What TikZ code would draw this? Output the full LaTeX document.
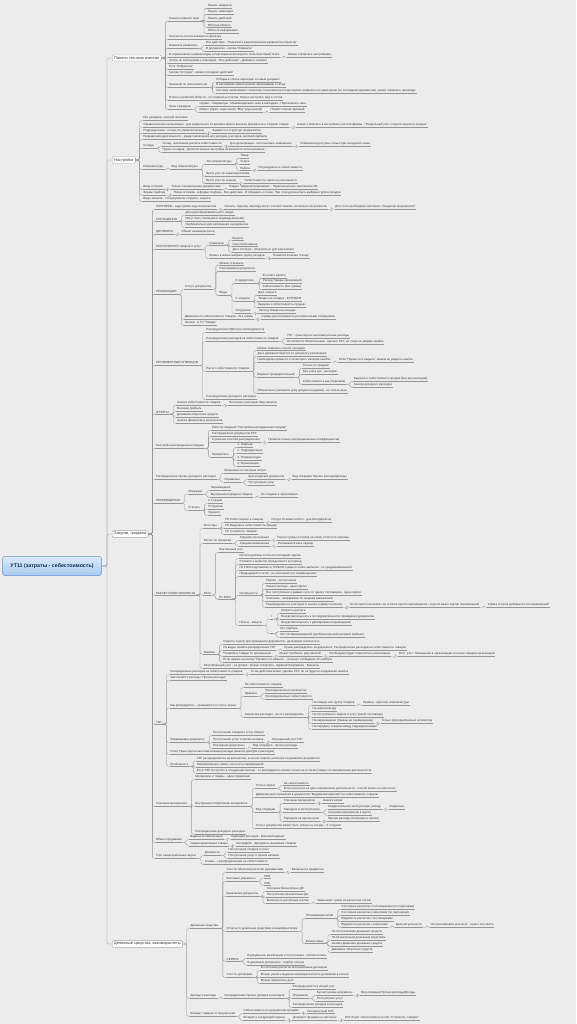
\documentclass[tikz,border=0pt]{standalone}
\usepackage{fontspec}
\setmainfont{Liberation Sans}
\newcommand{\mapfont}{\fontsize{2.95}{3.5}\selectfont}
\newcommand{\mapbigfont}{\fontsize{3.9}{4.6}\selectfont}
\newcommand{\maprootfont}{\fontsize{5.3}{6.2}\selectfont\bfseries}
\definecolor{paper}{RGB}{236,236,236}
\definecolor{textc}{RGB}{55,55,55}
\definecolor{linec}{RGB}{150,150,150}
\definecolor{boxc}{RGB}{165,165,165}
\definecolor{roottop}{RGB}{218,234,250}
\definecolor{rootbot}{RGB}{168,201,240}
\definecolor{rootline}{RGB}{96,146,212}
\definecolor{roottext}{RGB}{25,45,85}

\begin{document}
\begin{tikzpicture}[x=1pt, y=-1pt,
  every node/.style={font=\mapfont, text=textc},
  topic/.style={anchor=west, xshift=7pt, inner xsep=.6pt, inner ysep=.9pt,
    append after command={(\tikzlastnode.south west) edge[draw=linec, line width=.3pt] (\tikzlastnode.south east)}},
  main/.style={anchor=west, draw=boxc, fill=white, rounded corners=1.2pt, inner xsep=2pt, inner ysep=1.6pt, font=\mapbigfont},
  root/.style={draw=rootline, line width=.5pt, top color=roottop, bottom color=rootbot, rounded corners=2.5pt,
    minimum width=99pt, minimum height=19pt, text=roottext, font=\maprootfont},
  link/.style={draw=linec, line width=.35pt, rounded corners=1.5pt,
    to path={(\tikztostart.south east) -| ([xshift=-3pt]\tikztotarget.south west) -- (\tikztotarget.south west)}},
  mainlink/.style={link, to path={(\tikztostart.east) -| ([xshift=-3pt]\tikztotarget.south west) -- (\tikztotarget.south west)}},
  trunk/.style={link, to path={(\tikztostart.east) -| ([xshift=-5pt]\tikztotarget.west) -- (\tikztotarget.west)}}]

  \useasboundingbox (0,0) rectangle (576,1024);
  \fill[paper] (0,0) rectangle (576,1024);

  % root and main branches
  \node[root] (ut) at (52,566) {УТ11 (затраты - себестоимость)};
  \node[main] (ui) at (112,58) {Панели технологические};
  \node[main] (setup) at (112,160) {Настройки};
  \node[main] (trade) at (112,534) {Закупки, продажи};
  \node[main] (money) at (112,944) {Денежные средства, взаиморасчеты};

  % Панели технологические
  \node[topic] (uiwin) at (ui.east |- 0,19) {Панели главного окна};
  \node[topic] (uiwin1) at (uiwin.east |- 0,6) {Панель разделов};
  \node[topic] (uiwin2) at (uiwin.east |- 0,12) {Панель навигации};
  \node[topic] (uiwin3) at (uiwin.east |- 0,19) {Панель действий};
  \node[topic] (uiwin4) at (uiwin.east |- 0,25) {Рабочая область};
  \node[topic] (uiwin5) at (uiwin.east |- 0,31) {Области информации};
  \node[topic] (uifilt) at (ui.east |- 0,37) {Контексты использования по фильтру};
  \node[topic] (uiedit) at (ui.east |- 0,46) {Изменить реквизиты};
  \node[topic] (uiedit1) at (uiedit.east |- 0,43) {Все действия - "Разрешить редактирование реквизитов объектов"};
  \node[topic] (uiedit2) at (uiedit.east |- 0,49) {В документах - кнопка "Изменить"};
  \node[topic] (uisrch) at (ui.east |- 0,55) {В справочниках номенклатуры и партнеров используется полнотекстовый поиск};
  \node[topic] (uisrch1) at (uisrch.east |- 0,55) {Можно отключить настройками};
  \node[topic] (uihelp) at (ui.east |- 0,61) {Чтобы не использовать помощник - "Все действия" - Добавить элемент};
  \node[topic] (uifav) at (ui.east |- 0,67) {Есть "Избранное"};
  \node[topic] (uihist) at (ui.east |- 0,73) {Кнопка "История" - кроме последних действий};
  \node[topic] (uidef) at (ui.east |- 0,85) {Значения по умолчанию нет};
  \node[topic] (uidef1) at (uidef.east |- 0,79.5) {Отборы в списке переходят в новый документ};
  \node[topic] (uidef2) at (uidef.east |- 0,85) {В настройках можно указать организацию и склад};
  \node[topic] (uidef3) at (uidef.east |- 0,91) {Система накапливает статистику пользователя и подставляет реквизиты по умолчанию (по последним документам), нужно отключить при вводе};
  \node[topic] (uirep) at (ui.east |- 0,98) {Отчеты в рабочей области - это варианты отчетов. Можно настроить вид и состав};
  \node[topic] (uiwnd) at (ui.east |- 0,107) {Окна и разделы};
  \node[topic] (uiwnd1) at (uiwnd.east |- 0,104) {Сервис - Параметры - Минимизировать окно в закладках - Переключать окна};
  \node[topic] (uiwnd2) at (uiwnd.east |- 0,110) {Можно убрать через меню "Вид" ряд панелей};
  \node[topic] (uiwnd3) at (uiwnd2.east |- 0,110) {Появится меню функций};

  % Настройки
  \node[topic] (st1) at (setup.east |- 0,118) {Нет резервов, учетной политики};
  \node[topic] (st2) at (setup.east |- 0,125) {Управленческая организация - для раздельного по времени факта выпуска документов и отгрузки товара};
  \node[topic] (st2a) at (st2.east |- 0,125) {можно отключить в настройках учетной фирмы : "Раздельный учет отгрузки закупок и продаж"};
  \node[topic] (st3) at (setup.east |- 0,131) {Подразделения - только по управленческим};
  \node[topic] (st3a) at (st3.east |- 0,131) {Задаются в структуре предприятия};
  \node[topic] (st4) at (setup.east |- 0,137) {Направления деятельности - раздел включения для доходов, расходов, валовой прибыли};
  \node[topic] (store) at (setup.east |- 0,146) {Склады};
  \node[topic] (store1) at (store.east |- 0,144) {Склад - включение расчета себестоимости};
  \node[topic] (store1a) at (store1.east |- 0,144) {Для детализации - использовать помещения};
  \node[topic] (store1b) at (store1a.east |- 0,144) {Помещения доступны только при складской схеме};
  \node[topic] (store2) at (store.east |- 0,150) {Группы складов - дополнительная настройка возможности использования};
  \node[topic] (nom) at (setup.east |- 0,167) {Номенклатура};
  \node[topic] (nomkind) at (nom.east |- 0,167) {Вид номенклатуры};
  \node[topic] (nomtype) at (nomkind.east |- 0,162) {Тип номенклатуры};
  \node[topic] (nomtype1) at (nomtype.east |- 0,156) {Товар};
  \node[topic] (nomtype2) at (nomtype.east |- 0,162) {Услуга};
  \node[topic] (nomtype3) at (nomtype.east |- 0,168) {Работа};
  \node[topic] (nomtype3a) at (nomtype3.east |- 0,168) {Регулируемость себестоимости};
  \node[topic] (nomchar) at (nomkind.east |- 0,174) {Вести учет по характеристикам};
  \node[topic] (nomser) at (nomkind.east |- 0,181) {Вести учет по сериям};
  \node[topic] (nomser1) at (nomser.east |- 0,181) {Себестоимость серии не учитывается};
  \node[topic] (st7) at (setup.east |- 0,187) {Ввод остатков};
  \node[topic] (st7a) at (st7.east |- 0,187) {Только специальными документами};
  \node[topic] (st7b) at (st7a.east |- 0,187) {Раздел "Администрирование" - Первоначальное заполнение ИБ};
  \node[topic] (st8) at (setup.east |- 0,193) {Формы подбора};
  \node[topic] (st8a) at (st8.east |- 0,193) {Показ остатков - в форме подбора - Все действия - Отображать остатки. При этом должна быть выбрана группа складов};
  \node[topic] (st9) at (setup.east |- 0,199) {Виды запасов - это документы отгрузки - закупки};

  % Закупки, продажи
  \node[topic] (partn) at (trade.east |- 0,207) {ПАРТНЕРЫ - надстройка над контрагентом};
  \node[topic] (partn1) at (partn.east |- 0,207) {Оплата - Одному партнеру могут соответствовать несколько контрагентов};
  \node[topic] (partn2) at (partn1.east |- 0,207) {Для этого необходимо заполнить "Сведения предприятия"};
  \node[topic] (agree) at (trade.east |- 0,219) {СОГЛАШЕНИЯ};
  \node[topic] (agree1) at (agree.east |- 0,213) {Для ценообразования цен и скидок};
  \node[topic] (agree2) at (agree.east |- 0,219) {Могут быть типовыми и индивидуальными};
  \node[topic] (agree3) at (agree.east |- 0,225) {Необязательно для заполнения в документах};
  \node[topic] (contr) at (trade.east |- 0,232) {ДОГОВОРЫ};
  \node[topic] (contr1) at (contr.east |- 0,232) {Объект взаиморасчетов};
  \node[topic] (recv) at (trade.east |- 0,247) {ПОСТУПЛЕНИЯ товаров и услуг};
  \node[topic] (recvreq) at (recv.east |- 0,243) {Реквизиты};
  \node[topic] (recvreq1) at (recvreq.east |- 0,238) {Валюта};
  \node[topic] (recvreq2) at (recvreq.east |- 0,244) {Налогообложение};
  \node[topic] (recvreq3) at (recvreq.east |- 0,250) {Дата платежа - обязательно для заполнения};
  \node[topic] (recvstore) at (recv.east |- 0,256) {Можно в шапке выбрать группу складов};
  \node[topic] (recvstore1) at (recvstore.east |- 0,256) {Появится колонка "Склад"};
  \node[topic] (sale) at (trade.east |- 0,292) {РЕАЛИЗАЦИИ};
  \node[topic] (salest) at (sale.east |- 0,287) {Статус документов};
  \node[topic] (salest1) at (salest.east |- 0,263) {Можно отклонить};
  \node[topic] (salest2) at (salest.east |- 0,269) {Распоряжение документа};
  \node[topic] (salekind) at (salest.east |- 0,293) {Виды};
  \node[topic] (prepay) at (salekind.east |- 0,281) {К предоплате};
  \node[topic] (prepay1) at (prepay.east |- 0,276) {В оплате валюту};
  \node[topic] (prepay2) at (prepay.east |- 0,281) {Расход Товары организаций};
  \node[topic] (prepay3) at (prepay.east |- 0,287) {Себестоимость (без суммы)};
  \node[topic] (toship) at (salekind.east |- 0,299) {К отгрузке};
  \node[topic] (toship1) at (toship.east |- 0,293) {Долг клиента};
  \node[topic] (toship2) at (toship.east |- 0,299) {Товары на складах - В РЕЗЕРВ};
  \node[topic] (toship3) at (toship.east |- 0,305) {Выручка и себестоимость продаж};
  \node[topic] (shipped) at (salekind.east |- 0,311) {Отгружено};
  \node[topic] (shipped1) at (shipped.east |- 0,311) {Расход Товары на складах};
  \node[topic] (salecost) at (sale.east |- 0,317) {Движения по себестоимости товаров - без суммы};
  \node[topic] (salecost1) at (salecost.east |- 0,317) {Суммы рассчитываются регламентными операциями};
  \node[topic] (saletax) at (sale.east |- 0,323) {Налоги - в ТЧ "Товары"};

  \node[topic] (regop) at (trade.east |- 0,363) {РЕГЛАМЕНТНЫЕ ОПЕРАЦИИ};
  \node[topic] (vat) at (regop.east |- 0,330) {Распределение НДС (при необходимости)};
  \node[topic] (alloc) at (regop.east |- 0,339) {Распределение расходов на себестоимость товаров};
  \node[topic] (alloc1) at (alloc.east |- 0,336) {ТЗР - транспортно заготовительные расходы};
  \node[topic] (alloc2) at (alloc.east |- 0,342) {Не является обязательным - сделает РСТ, но тогда не увидим ошибки};
  \node[topic] (calc) at (regop.east |- 0,369) {Расчет себестоимости товаров};
  \node[topic] (calc1) at (calc.east |- 0,348) {Можно поменять способ списания};
  \node[topic] (calc2) at (calc.east |- 0,354) {Дата движения берется по документу реализации};
  \node[topic] (calc3) at (calc.east |- 0,360) {Необходимо провести и посмотреть наличие ошибок};
  \node[topic] (calc3a) at (calc3.east |- 0,360) {Если "Провести и закрыть" можем не увидеть ошибок};
  \node[topic] (draft) at (calc.east |- 0,375) {Вариант предварительный};
  \node[topic] (draft1) at (draft.east |- 0,366) {Только по средней};
  \node[topic] (draft2) at (draft.east |- 0,372) {Без учета доп. расходов};
  \node[topic] (draft3) at (draft.east |- 0,382) {Себестоимость как (Черновик)};
  \node[topic] (draft3a) at (draft3.east |- 0,379) {Выручка и себестоимость продаж (Без доп расходов)};
  \node[topic] (draft3b) at (draft3.east |- 0,385) {Анализ доходов и расходов};
  \node[topic] (calc5) at (calc.east |- 0,391) {Обязательно учитывать дату документа (время) - не только день};
  \node[topic] (regop4) at (regop.east |- 0,397) {Распределение доходов и расходов};

  \node[topic] (rep) at (trade.east |- 0,412) {ОТЧЕТЫ};
  \node[topic] (rep1) at (rep.east |- 0,403) {Анализ себестоимости товаров};
  \node[topic] (rep1a) at (rep1.east |- 0,403) {Постоянно учитывает Вид запасов};
  \node[topic] (rep2) at (rep.east |- 0,409) {Валовая прибыль};
  \node[topic] (rep3) at (rep.east |- 0,415) {Динамика оборотных средств};
  \node[topic] (rep4) at (rep.east |- 0,421) {Анализ финансовых результатов};

  \node[topic] (split) at (trade.east |- 0,446) {Настройка распределения продаж};
  \node[topic] (split1) at (split.east |- 0,428) {Регистр сведений "Настройка распределения продаж"};
  \node[topic] (split2) at (split.east |- 0,434) {Распределение документов РСТ};
  \node[topic] (split3) at (split.east |- 0,440) {Стратегия способа распределения};
  \node[topic] (split3a) at (split3.east |- 0,440) {Правила только пропорционально коэффициентам};
  \node[topic] (prio) at (split.east |- 0,455) {Приоритеты};
  \node[topic] (prio1) at (prio.east |- 0,445) {1. Партнер};
  \node[topic] (prio2) at (prio.east |- 0,451) {2. Подразделение};
  \node[topic] (prio3) at (prio.east |- 0,458) {3. Номенклатура};
  \node[topic] (prio4) at (prio.east |- 0,464) {4. Организация};

  \node[topic] (other) at (trade.east |- 0,477) {Распределение прочих доходов и расходов};
  \node[topic] (other1) at (other.east |- 0,471) {Возможности списания затрат};
  \node[topic] (otherref) at (other.east |- 0,480) {Отражение};
  \node[topic] (otherref1) at (otherref.east |- 0,477) {Бухгалтерские документы};
  \node[topic] (otherref1a) at (otherref1.east |- 0,477) {Вид операции Прочие расходы/Доходы};
  \node[topic] (otherref2) at (otherref.east |- 0,483) {Поступление услуг};

  \node[topic] (move) at (trade.east |- 0,501) {ПЕРЕМЕЩЕНИЯ};
  \node[topic] (moveop) at (move.east |- 0,492) {Операции};
  \node[topic] (moveop1) at (moveop.east |- 0,488) {Перемещения};
  \node[topic] (moveop2) at (moveop.east |- 0,495) {Внутренняя передача товаров};
  \node[topic] (moveop2a) at (moveop2.east |- 0,495) {Не созданы в организации};
  \node[topic] (movest) at (move.east |- 0,508) {Статусы};
  \node[topic] (movest1) at (movest.east |- 0,501) {К отгрузке};
  \node[topic] (movest2) at (movest.east |- 0,507) {Отгружено};
  \node[topic] (movest3) at (movest.east |- 0,513) {Принято};

  \node[topic] (cost) at (trade.east |- 0,593) {РАСЧЕТ СЕБЕСТОИМОСТИ};
  \node[topic] (reg) at (cost.east |- 0,526) {Регистры};
  \node[topic] (reg1) at (reg.east |- 0,520) {РН Себестоимость товаров};
  \node[topic] (reg1a) at (reg1.east |- 0,520) {Ресурс Стоимость/Регл - для Интерфейсов};
  \node[topic] (reg2) at (reg.east |- 0,526) {РН Выручка и себестоимость продаж};
  \node[topic] (reg3) at (reg.east |- 0,532) {РС Стоимость товаров};
  \node[topic] (avg) at (cost.east |- 0,541) {Расчет по среднему};
  \node[topic] (avg1) at (avg.east |- 0,538) {Средняя скользящая};
  \node[topic] (avg1a) at (avg1.east |- 0,538) {Расчет суммы остатков на конец отчетного периода};
  \node[topic] (avg2) at (avg.east |- 0,544) {Средняя взвешенная};
  \node[topic] (avg2a) at (avg2.east |- 0,544) {Учитывается весь период};
  \node[topic] (fifo) at (cost.east |- 0,593) {FIFO};
  \node[topic] (fifo1) at (fifo.east |- 0,550) {Партионный учет};
  \node[topic] (rauz) at (fifo.east |- 0,597) {По РАУЗ};
  \node[topic] (rauz1) at (rauz.east |- 0,556) {Остатки должны остаться последние партии};
  \node[topic] (rauz2) at (rauz.east |- 0,562) {Стоимость выбытия определяется за период};
  \node[topic] (rauz3) at (rauz.east |- 0,568) {По FIFO подставляется ТОЛЬКО сумма остатка, выбытие - по средневзвешенной};
  \node[topic] (rauz4) at (rauz.east |- 0,574) {Предыдущий остаток - не учитывается в перемещениях};
  \node[topic] (feat) at (rauz.east |- 0,593) {Особенности};
  \node[topic] (feat1) at (feat.east |- 0,581) {Партии - поступление};
  \node[topic] (feat2) at (feat.east |- 0,587) {Начало месяца - одна партия};
  \node[topic] (feat3) at (feat.east |- 0,593) {Все поступления в рамках суток от одного поставщика - одна партия};
  \node[topic] (feat4) at (feat.east |- 0,599) {Списание - непрерывно по средней взвешенной};
  \node[topic] (feat5) at (feat.east |- 0,605) {Перемещения не участвуют в оценке (суммы остатков)};
  \node[topic] (feat5a) at (feat5.east |- 0,605) {Если партия не влияет на остаток партии перемещения - подсчитывает партии перемещений};
  \node[topic] (feat5b) at (feat5a.east |- 0,605) {Сумма остатка добирается из перемещений};
  \node[topic] (pm) at (rauz.east |- 0,623) {Плюсы - минусы};
  \node[topic] (plus) at (pm.east |- 0,617) {+};
  \node[topic] (plus1) at (plus.east |- 0,611) {Скорость расчета};
  \node[topic] (plus2) at (plus.east |- 0,617) {Нечувствительность к последовательности проведения документов};
  \node[topic] (plus3) at (plus.east |- 0,623) {Нечувствительность к дате/времени перемещений};
  \node[topic] (minus) at (pm.east |- 0,632) {-};
  \node[topic] (minus1) at (minus.east |- 0,629) {Нет подбора};
  \node[topic] (minus2) at (minus.east |- 0,635) {Нет оптимизированной (приблизительной) валовой прибыли};
  \node[topic] (err) at (cost.east |- 0,652) {Ошибки};
  \node[topic] (err1) at (err.east |- 0,642) {Сверить оценку при проведении документов - дата может измениться};
  \node[topic] (err2) at (err.east |- 0,648) {Не видно ошибок распределения ТЗР};
  \node[topic] (err2a) at (err2.east |- 0,648) {Лучше распределять из документа: Распределение расходов на себестоимость товаров};
  \node[topic] (err3) at (err.east |- 0,654) {Появились товары по организации};
  \node[topic] (err3a) at (err3.east |- 0,654) {Может пробегать ряд записей};
  \node[topic] (err3b) at (err3a.east |- 0,654) {Необходимо будет пересчитать реализацию};
  \node[topic] (err3c) at (err3b.east |- 0,654) {Регл. учет: Помещение в организацию остатков товаров организаций};
  \node[topic] (err4) at (err.east |- 0,660) {Если нажать на кнопку "Провести и закрыть" - исчезнут сообщения об ошибках};
  \node[topic] (sep) at (cost.east |- 0,666) {Обособленный учет - на уровне - можно отключить. Администрирование - Финансы};

  \node[topic] (tzr) at (trade.east |- 0,722) {ТЗР};
  \node[topic] (tzr1) at (tzr.east |- 0,672) {Распределение расходов на себестоимость товаров};
  \node[topic] (tzr1a) at (tzr1.east |- 0,672) {Те же действия может сделать РСТ, но не будет исследования ошибок};
  \node[topic] (tzr2) at (tzr.east |- 0,678) {Заполняются расходы "Прочие расходы"};
  \node[topic] (how) at (tzr.east |- 0,706) {Как распределять - указывается в статье затрат};
  \node[topic] (how1) at (how.east |- 0,685) {На себестоимость товаров};
  \node[topic] (rule) at (how.east |- 0,694) {Правила};
  \node[topic] (rule1) at (rule.east |- 0,691) {Пропорционально количеству};
  \node[topic] (rule2) at (rule.east |- 0,697) {Пропорционально себестоимости};
  \node[topic] (anl) at (how.east |- 0,715) {Аналитика расходов - на что распределять};
  \node[topic] (anl1) at (anl.east |- 0,703) {На товары или группу товаров};
  \node[topic] (anl1a) at (anl1.east |- 0,703) {Пример - карточки номенклатуры};
  \node[topic] (anl2) at (anl.east |- 0,709) {На номенклатуру};
  \node[topic] (anl3) at (anl.east |- 0,715) {На поступление товаров и услуг (какой поставщик)};
  \node[topic] (anl4) at (anl.east |- 0,721) {На перемещение (Заказы на перемещение)};
  \node[topic] (anl4a) at (anl4.east |- 0,721) {Только пропорционально количеству};
  \node[topic] (anl5) at (anl.east |- 0,727) {На передачу товаров между подразделениями};
  \node[topic] (doc) at (tzr.east |- 0,740) {Отражающие документы};
  \node[topic] (doc1) at (doc.east |- 0,733) {Поступление товаров и услуг (Закуп)};
  \node[topic] (doc2) at (doc.east |- 0,740) {Поступление услуг и прочих активов};
  \node[topic] (doc2a) at (doc2.east |- 0,740) {Упрощенный учет ТЗР};
  \node[topic] (doc3) at (doc.east |- 0,746) {Платежные документы};
  \node[topic] (doc3a) at (doc3.east |- 0,746) {Вид операции - прочие расходы};
  \node[topic] (tzrrep) at (tzr.east |- 0,752) {Отчет Транспортно-заготовительные расходы (Анализ доходов и расходов)};
  \node[topic] (tzrf) at (tzr.east |- 0,764) {Особенность};
  \node[topic] (tzrf1) at (tzrf.east |- 0,758.5) {ТЗР распределяются на количество, если нет партий, несмотря на движения документов};
  \node[topic] (tzrf2) at (tzrf.east |- 0,764.5) {Непривязанные суммы, если нету перемещений};
  \node[topic] (tzrf3) at (tzrf.east |- 0,770.5) {Если ТЗР поступило в следующем месяце - то распределить можно только на остатки (товары по направлению деятельности)};

  \node[topic] (mat) at (trade.east |- 0,804) {Списание материалов};
  \node[topic] (mat1) at (mat.east |- 0,777) {Материалы и товары - один справочник};
  \node[topic] (use) at (mat.east |- 0,804) {Внутреннее потребление материалов};
  \node[topic] (art) at (use.east |- 0,786) {Статья затрат};
  \node[topic] (art1) at (art.east |- 0,783) {На себестоимость};
  \node[topic] (art2) at (art.east |- 0,789) {Если относится на одно направление деятельности - способ можно не заполнять};
  \node[topic] (use2) at (use.east |- 0,795) {Движения для отражения в документах "Выдача материалов" на себестоимость товаров};
  \node[topic] (opk) at (use.east |- 0,810) {Вид операции};
  \node[topic] (opk1) at (opk.east |- 0,801) {Списание материалов};
  \node[topic] (opk1a) at (opk1.east |- 0,801) {Анализ затрат};
  \node[topic] (opk2) at (opk.east |- 0,810) {Передача в эксплуатацию};
  \node[topic] (opk2a) at (opk2.east |- 0,807) {Разделительная эксплуатация (склад)};
  \node[topic] (opk2b) at (opk2a.east |- 0,807) {Справочно};
  \node[topic] (opk2c) at (opk2.east |- 0,813) {Списание материалов в группу};
  \node[topic] (opk3) at (opk.east |- 0,819) {Передача на прочие цели};
  \node[topic] (opk3a) at (opk3.east |- 0,819) {Прочие расходы (Списание в налоги)};
  \node[topic] (use4) at (use.east |- 0,826) {Статус документов может быть только на складе - "к отгрузке"};
  \node[topic] (mat3) at (mat.east |- 0,832) {Распределение доходов и расходов};

  \node[topic] (xch) at (trade.east |- 0,840) {Обмен продажами};
  \node[topic] (xch1) at (xch.east |- 0,837) {Варианты компенсации};
  \node[topic] (xch1a) at (xch1.east |- 0,837) {Сценарий расходов - Валовой вариант};
  \node[topic] (xch2) at (xch.east |- 0,843.5) {Сверхнормативные товары};
  \node[topic] (xch2a) at (xch2.east |- 0,843.5) {Интерфейс - Документы денежных товаров};
  \node[topic] (nonmat) at (trade.east |- 0,856) {Учет нематериальных затрат};
  \node[topic] (nmdoc) at (nonmat.east |- 0,853) {Документы};
  \node[topic] (nmdoc1) at (nmdoc.east |- 0,849.5) {Поступление товаров и услуг};
  \node[topic] (nmdoc2) at (nmdoc.east |- 0,856) {Поступление услуг и прочих активов};
  \node[topic] (nm2) at (nonmat.east |- 0,862) {Статьи - с распределением на себестоимость};

  % Денежные средства, взаиморасчеты
  \node[topic] (cash) at (money.east |- 0,926) {Денежные средства};
  \node[topic] (cash1) at (cash.east |- 0,870) {Учет по объектам расчетов (документам)};
  \node[topic] (cash1a) at (cash1.east |- 0,870) {Включается предметно};
  \node[topic] (till) at (cash.east |- 0,879) {Кассовые документы};
  \node[topic] (till1) at (till.east |- 0,876) {ПКО};
  \node[topic] (till2) at (till.east |- 0,883) {РКО};
  \node[topic] (bank) at (cash.east |- 0,894) {Банковские документы};
  \node[topic] (bank1) at (bank.east |- 0,889) {Списание безналичных ДС};
  \node[topic] (bank2) at (bank.east |- 0,895) {Поступление безналичных ДС};
  \node[topic] (bank3) at (bank.east |- 0,901) {Выписка по расчетным счетам};
  \node[topic] (bank3a) at (bank3.east |- 0,901) {Уменьшает сумму на расчетных счетах};
  \node[topic] (crep) at (cash.east |- 0,929) {Отчеты по денежным средствам и взаиморасчетам};
  \node[topic] (mut) at (crep.east |- 0,916) {По взаиморасчетам};
  \node[topic] (mut1) at (mut.east |- 0,907) {Состояние расчетов с поставщиками (по партнерам)};
  \node[topic] (mut2) at (mut.east |- 0,913) {Состояние расчетов с клиентами (по партнерам)};
  \node[topic] (mut3) at (mut.east |- 0,919) {Ведомость расчетов с поставщиками};
  \node[topic] (mut4) at (mut.east |- 0,925) {Ведомость расчетов с клиентами};
  \node[topic] (mut4a) at (mut4.east |- 0,925) {Дата актуальности};
  \node[topic] (mut4b) at (mut4a.east |- 0,925) {"Актуализировать расчеты" - нужно поставить};
  \node[topic] (fin) at (crep.east |- 0,941) {Финансовые};
  \node[topic] (fin1) at (fin.east |- 0,932) {По поступлениям денежных средств};
  \node[topic] (fin2) at (fin.east |- 0,938) {По безналичным денежным средствам};
  \node[topic] (fin3) at (fin.east |- 0,944) {Анализ движения денежных средств};
  \node[topic] (fin4) at (fin.east |- 0,950) {Динамика оборотных средств};
  \node[topic] (svc) at (cash.east |- 0,959) {СЕРВИС};
  \node[topic] (svc1) at (svc.east |- 0,956) {В документах реализации и поступления - кнопка оплаты};
  \node[topic] (svc2) at (svc.east |- 0,962.5) {В денежных документах - подбор оплаты};
  \node[topic] (dog) at (cash.east |- 0,975) {Учет по договорам};
  \node[topic] (dog1) at (dog.east |- 0,968) {В состоянии расчетов использование договоров};
  \node[topic] (dog2) at (dog.east |- 0,974.5) {Можно указать ведение взаиморасчетов по договорам в оплате};
  \node[topic] (dog3) at (dog.east |- 0,981) {Можно переписать долг};
  \node[topic] (inc) at (money.east |- 0,996) {Доходы и расходы};
  \node[topic] (inc1) at (inc.east |- 0,996) {Распределение прочих доходов и расходов};
  \node[topic] (inc1a) at (inc1.east |- 0,987) {Распределяются в общий учет};
  \node[topic] (incref) at (inc1.east |- 0,996) {Отражение};
  \node[topic] (incref1) at (incref.east |- 0,993) {Бухгалтерские документы};
  \node[topic] (incref1a) at (incref1.east |- 0,993) {Вид операции Прочие расходы/Доходы};
  \node[topic] (incref2) at (incref.east |- 0,999) {Поступление услуг};
  \node[topic] (inc1c) at (inc1.east |- 0,1005) {Распределение доходов и расходов};
  \node[topic] (ret) at (money.east |- 0,1014) {Возврат товаров от покупателей};
  \node[topic] (ret1) at (ret.east |- 0,1011) {Себестоимость по документам продажи};
  \node[topic] (ret1a) at (ret1.east |- 0,1011) {Регламентный РСТ};
  \node[topic] (ret2) at (ret.east |- 0,1018) {Возврат в следующий период};
  \node[topic] (ret2a) at (ret2.east |- 0,1018) {Документ продажи не заполнен};
  \node[topic] (ret2b) at (ret2a.east |- 0,1018) {РСТ берет себестоимость из РС "Стоимость товаров"};

  % connectors
  \draw[trunk] (ut) edge (ui) edge (setup) edge (trade) edge (money);
  \draw[mainlink] (ui) edge (uiwin) edge (uifilt) edge (uiedit) edge (uisrch) edge (uihelp)
    edge (uifav) edge (uihist) edge (uidef) edge (uirep) edge (uiwnd);
  \draw[link] (uiwin) edge (uiwin1) edge (uiwin2) edge (uiwin3) edge (uiwin4) edge (uiwin5);
  \draw[link] (uiedit) edge (uiedit1) edge (uiedit2);
  \draw[link] (uisrch) edge (uisrch1);
  \draw[link] (uidef) edge (uidef1) edge (uidef2) edge (uidef3);
  \draw[link] (uiwnd) edge (uiwnd1) edge (uiwnd2);
  \draw[link] (uiwnd2) edge (uiwnd3);

  \draw[mainlink] (setup) edge (st1) edge (st2) edge (st3) edge (st4) edge (store)
    edge (nom) edge (st7) edge (st8) edge (st9);
  \draw[link] (st2) edge (st2a);
  \draw[link] (st3) edge (st3a);
  \draw[link] (store) edge (store1) edge (store2);
  \draw[link] (store1) edge (store1a);
  \draw[link] (store1a) edge (store1b);
  \draw[link] (nom) edge (nomkind);
  \draw[link] (nomkind) edge (nomtype) edge (nomchar) edge (nomser);
  \draw[link] (nomtype) edge (nomtype1) edge (nomtype2) edge (nomtype3);
  \draw[link] (nomtype3) edge (nomtype3a);
  \draw[link] (nomser) edge (nomser1);
  \draw[link] (st7) edge (st7a);
  \draw[link] (st7a) edge (st7b);
  \draw[link] (st8) edge (st8a);

  \draw[mainlink] (trade) edge (partn) edge (agree) edge (contr) edge (recv) edge (sale)
    edge (regop) edge (rep) edge (split) edge (other) edge (move) edge (cost)
    edge (tzr) edge (mat) edge (xch) edge (nonmat);
  \draw[link] (partn) edge (partn1);
  \draw[link] (partn1) edge (partn2);
  \draw[link] (agree) edge (agree1) edge (agree2) edge (agree3);
  \draw[link] (contr) edge (contr1);
  \draw[link] (recv) edge (recvreq) edge (recvstore);
  \draw[link] (recvreq) edge (recvreq1) edge (recvreq2) edge (recvreq3);
  \draw[link] (recvstore) edge (recvstore1);
  \draw[link] (sale) edge (salest) edge (salecost) edge (saletax);
  \draw[link] (salest) edge (salest1) edge (salest2) edge (salekind);
  \draw[link] (salekind) edge (prepay) edge (toship) edge (shipped);
  \draw[link] (prepay) edge (prepay1) edge (prepay2) edge (prepay3);
  \draw[link] (toship) edge (toship1) edge (toship2) edge (toship3);
  \draw[link] (shipped) edge (shipped1);
  \draw[link] (salecost) edge (salecost1);
  \draw[link] (regop) edge (vat) edge (alloc) edge (calc) edge (regop4);
  \draw[link] (alloc) edge (alloc1) edge (alloc2);
  \draw[link] (calc) edge (calc1) edge (calc2) edge (calc3) edge (draft) edge (calc5);
  \draw[link] (calc3) edge (calc3a);
  \draw[link] (draft) edge (draft1) edge (draft2) edge (draft3);
  \draw[link] (draft3) edge (draft3a) edge (draft3b);
  \draw[link] (rep) edge (rep1) edge (rep2) edge (rep3) edge (rep4);
  \draw[link] (rep1) edge (rep1a);
  \draw[link] (split) edge (split1) edge (split2) edge (split3) edge (prio);
  \draw[link] (split3) edge (split3a);
  \draw[link] (prio) edge (prio1) edge (prio2) edge (prio3) edge (prio4);
  \draw[link] (other) edge (other1) edge (otherref);
  \draw[link] (otherref) edge (otherref1) edge (otherref2);
  \draw[link] (otherref1) edge (otherref1a);
  \draw[link] (move) edge (moveop) edge (movest);
  \draw[link] (moveop) edge (moveop1) edge (moveop2);
  \draw[link] (moveop2) edge (moveop2a);
  \draw[link] (movest) edge (movest1) edge (movest2) edge (movest3);
  \draw[link] (cost) edge (reg) edge (avg) edge (fifo) edge (err) edge (sep);
  \draw[link] (reg) edge (reg1) edge (reg2) edge (reg3);
  \draw[link] (reg1) edge (reg1a);
  \draw[link] (avg) edge (avg1) edge (avg2);
  \draw[link] (avg1) edge (avg1a);
  \draw[link] (avg2) edge (avg2a);
  \draw[link] (fifo) edge (fifo1) edge (rauz);
  \draw[link] (rauz) edge (rauz1) edge (rauz2) edge (rauz3) edge (rauz4) edge (feat) edge (pm);
  \draw[link] (feat) edge (feat1) edge (feat2) edge (feat3) edge (feat4) edge (feat5);
  \draw[link] (feat5) edge (feat5a);
  \draw[link] (feat5a) edge (feat5b);
  \draw[link] (pm) edge (plus) edge (minus);
  \draw[link] (plus) edge (plus1) edge (plus2) edge (plus3);
  \draw[link] (minus) edge (minus1) edge (minus2);
  \draw[link] (err) edge (err1) edge (err2) edge (err3) edge (err4);
  \draw[link] (err2) edge (err2a);
  \draw[link] (err3) edge (err3a);
  \draw[link] (err3a) edge (err3b);
  \draw[link] (err3b) edge (err3c);
  \draw[link] (tzr) edge (tzr1) edge (tzr2) edge (how) edge (doc) edge (tzrrep) edge (tzrf);
  \draw[link] (tzr1) edge (tzr1a);
  \draw[link] (how) edge (how1) edge (rule) edge (anl);
  \draw[link] (rule) edge (rule1) edge (rule2);
  \draw[link] (anl) edge (anl1) edge (anl2) edge (anl3) edge (anl4) edge (anl5);
  \draw[link] (anl1) edge (anl1a);
  \draw[link] (anl4) edge (anl4a);
  \draw[link] (doc) edge (doc1) edge (doc2) edge (doc3);
  \draw[link] (doc2) edge (doc2a);
  \draw[link] (doc3) edge (doc3a);
  \draw[link] (tzrf) edge (tzrf1) edge (tzrf2) edge (tzrf3);
  \draw[link] (mat) edge (mat1) edge (use) edge (mat3);
  \draw[link] (use) edge (art) edge (use2) edge (opk) edge (use4);
  \draw[link] (art) edge (art1) edge (art2);
  \draw[link] (opk) edge (opk1) edge (opk2) edge (opk3);
  \draw[link] (opk1) edge (opk1a);
  \draw[link] (opk2) edge (opk2a) edge (opk2c);
  \draw[link] (opk2a) edge (opk2b);
  \draw[link] (opk3) edge (opk3a);
  \draw[link] (xch) edge (xch1) edge (xch2);
  \draw[link] (xch1) edge (xch1a);
  \draw[link] (xch2) edge (xch2a);
  \draw[link] (nonmat) edge (nmdoc) edge (nm2);
  \draw[link] (nmdoc) edge (nmdoc1) edge (nmdoc2);

  \draw[mainlink] (money) edge (cash) edge (inc) edge (ret);
  \draw[link] (cash) edge (cash1) edge (till) edge (bank) edge (crep) edge (svc) edge (dog);
  \draw[link] (cash1) edge (cash1a);
  \draw[link] (till) edge (till1) edge (till2);
  \draw[link] (bank) edge (bank1) edge (bank2) edge (bank3);
  \draw[link] (bank3) edge (bank3a);
  \draw[link] (crep) edge (mut) edge (fin);
  \draw[link] (mut) edge (mut1) edge (mut2) edge (mut3) edge (mut4);
  \draw[link] (mut4) edge (mut4a);
  \draw[link] (mut4a) edge (mut4b);
  \draw[link] (fin) edge (fin1) edge (fin2) edge (fin3) edge (fin4);
  \draw[link] (svc) edge (svc1) edge (svc2);
  \draw[link] (dog) edge (dog1) edge (dog2) edge (dog3);
  \draw[link] (inc) edge (inc1);
  \draw[link] (inc1) edge (inc1a) edge (incref) edge (inc1c);
  \draw[link] (incref) edge (incref1) edge (incref2);
  \draw[link] (incref1) edge (incref1a);
  \draw[link] (ret) edge (ret1) edge (ret2);
  \draw[link] (ret1) edge (ret1a);
  \draw[link] (ret2) edge (ret2a);
  \draw[link] (ret2a) edge (ret2b);
\end{tikzpicture}
\end{document}
